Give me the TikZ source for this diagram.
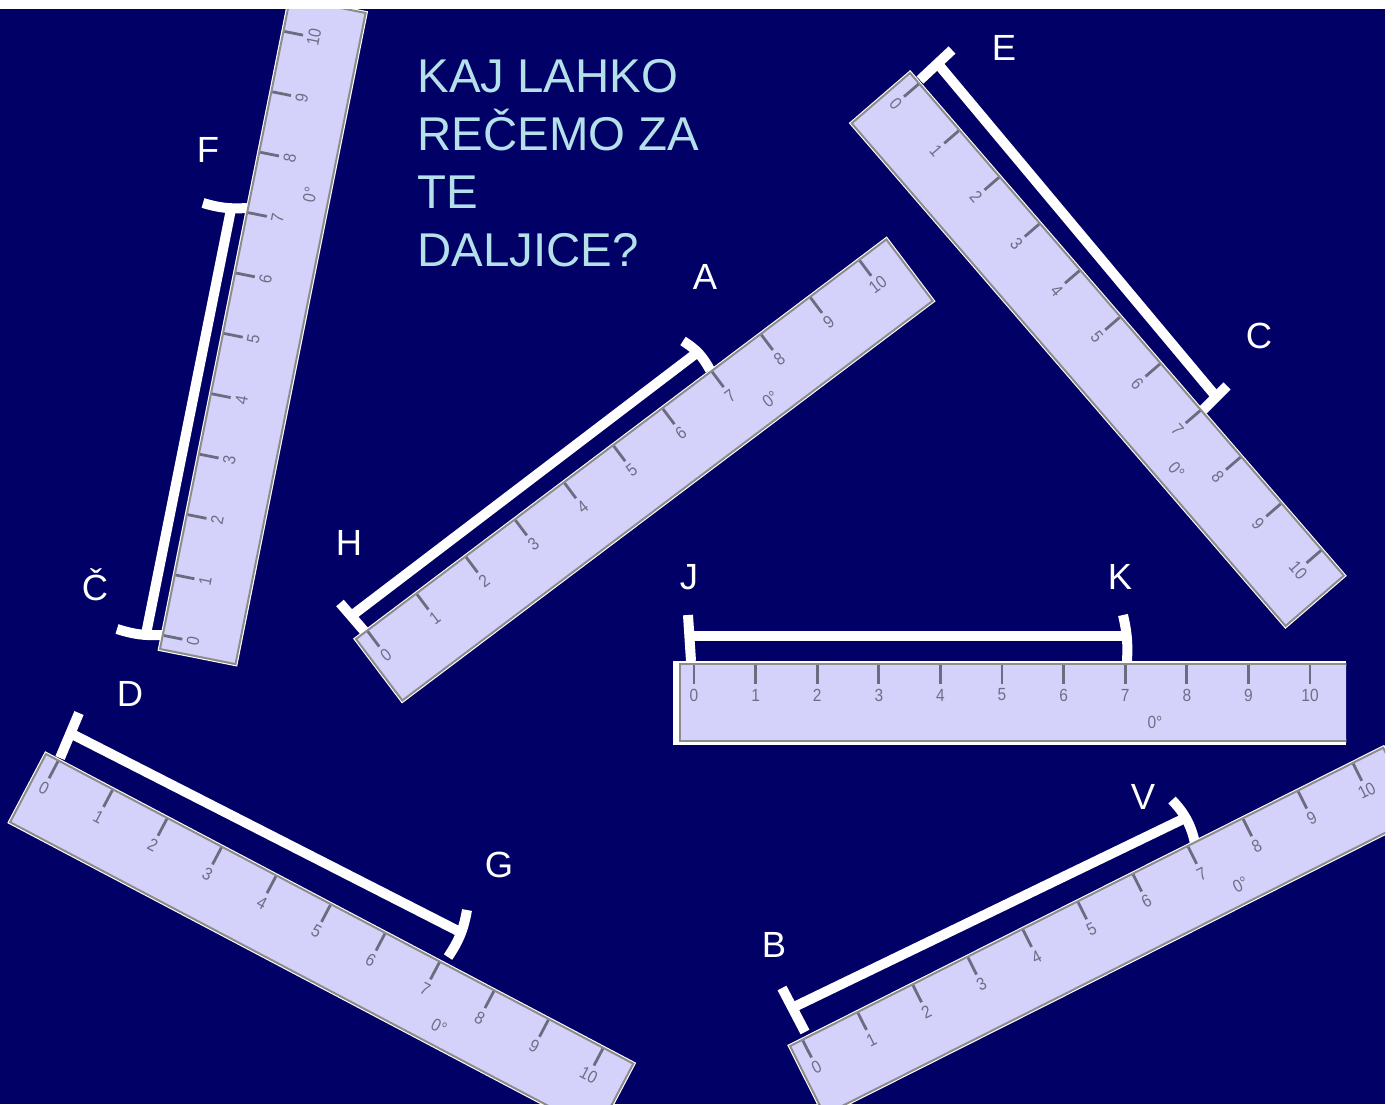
\documentclass[tikz,border=0pt]{standalone}
\usepackage{xcolor}
\usepackage{fontspec}
\setmainfont{Liberation Sans}
\usetikzlibrary{calc}
\definecolor{navybg}{HTML}{000066}
\definecolor{rulerface}{HTML}{D4D2FA}
\definecolor{rulerborder}{HTML}{8C8C8C}
\definecolor{rulertick}{HTML}{6C6C80}
\definecolor{rulerdigit}{HTML}{6E6E86}
\definecolor{titlecyan}{HTML}{B4E0EA}
\def\rulerlen{664}
\def\rulerdepth{77}
\tikzset{
    bracketline/.style={draw=white, line width=5pt},
    ptlabel/.style={text=white, font=\fontsize{18.2}{20}\selectfont, anchor=base, inner sep=0pt},
    titletext/.style={
        text=titlecyan, font=\fontsize{23.7}{29}\selectfont,
        align=left, anchor=north west, inner sep=0pt
    },
    digit/.style={
        transform shape, xscale=0.88, text=rulerdigit, inner sep=0pt,
        font=\fontsize{8.8}{9}\selectfont
    },
    tickline/.style={draw=rulertick, line width=1.4pt},
    ruler/.pic={
        \draw[white, line width=2.1pt] (0,0) rectangle (\rulerlen,\rulerdepth);
        \draw[rulerborder, fill=rulerface, line width=1pt] (0,0) rectangle (\rulerlen,\rulerdepth);
        \foreach \n in {0,...,10} {
            \draw[tickline] ({14+61.6*\n},1) -- ({14+61.6*\n},20);
            \node[digit] (digit\n) at ({14+61.6*\n},31) {\n};
        }
        \node[digit] (angle) at (475,58) {0°};
    },
}
\begin{document}
\begin{tikzpicture}[x=0.5pt, y=-0.5pt]
    \useasboundingbox (0,0) rectangle (1397,1104);
    \fill[white] (0,0) rectangle (1397,1104);
    \begin{scope}
        \clip (0,9) rectangle (1385,1104);
        \fill[navybg] (0,9) rectangle (1385,1104);

        % end points of the segments
        \coordinate (Etip) at (952,50);
        \coordinate (Eend) at (920,80);
        \coordinate (Ctip) at (1227,386);
        \coordinate (Cend) at (1203,410);
        \coordinate (Atip) at (683,341);
        \coordinate (Aend) at (710,370);
        \coordinate (Htip) at (340,603);
        \coordinate (Hend) at (365,632);
        \coordinate (Ftip) at (203,203);
        \coordinate (Fend) at (247,208);
        \coordinate (Cctip) at (117,629);
        \coordinate (Ccend) at (162,635);
        \coordinate (Dtip) at (79,713);
        \coordinate (Dend) at (60,758);
        \coordinate (Gtip) at (467,910);
        \coordinate (Gend) at (448,957);
        \coordinate (Btip) at (782,988);
        \coordinate (Bend) at (805,1032);
        \coordinate (Vtip) at (1172,800);
        \coordinate (Vend) at (1195,843);
        \coordinate (Jtip) at (688,615);
        \coordinate (Jend) at (691,661);
        \coordinate (Ktip) at (1123,615);
        \coordinate (Kend) at (1127,661);

        \draw[bracketline] (Etip) -- (Eend) (Ctip) -- (Cend);
        \draw[bracketline] ($(Etip)!.45!(Eend)$) -- ($(Ctip)!.45!(Cend)$);
        \draw[bracketline] (Atip) to[bend left=15] (Aend) (Htip) -- (Hend);
        \draw[bracketline] ($(Atip)!.45!(Aend)$) -- ($(Htip)!.45!(Hend)$);
        \draw[bracketline] (Ftip) to[bend right=10] (Fend) (Cctip) to[bend right=10] (Ccend);
        \draw[bracketline] ($(Ftip)!.65!(Fend)$) -- ($(Cctip)!.65!(Ccend)$);
        \draw[bracketline] (Dtip) -- (Dend) (Gtip) to[bend left=12] (Gend);
        \draw[bracketline] ($(Dtip)!.45!(Dend)$) -- ($(Gtip)!.45!(Gend)$);
        \draw[bracketline] (Btip) -- (Bend) (Vtip) to[bend left=15] (Vend);
        \draw[bracketline] ($(Btip)!.45!(Bend)$) -- ($(Vtip)!.45!(Vend)$);
        \draw[bracketline] (Jtip) -- (Jend) (Ktip) to[bend left=8] (Kend);
        \draw[bracketline] ($(Jtip)!.45!(Jend)$) -- ($(Ktip)!.45!(Kend)$);

        \pic (rulerHA) at (356,639) [rotate=37] {ruler};
        \pic (rulerDG) at (46,754) [rotate=-27.8] {ruler};
        \pic (rulerEC) at (910,73) [rotate=-49.2] {ruler};
        \pic (rulerCF) at (160,649) [rotate=78.7] {ruler};
        \pic (rulerBV) at (790,1046) [rotate=26.7] {ruler};

        % the level ruler has a white frame and runs out on the right
        \fill[white] (673,661) rectangle (1346,745);
        \begin{scope}
            \clip (673,655) rectangle (1346,750);
            \def\rulerlen{680}
            \pic (rulerJK) at (680,664) {ruler};
        \end{scope}

        \node[titletext] (question) at (417,59) {KAJ LAHKO\\REČEMO ZA\\TE\\DALJICE?};
        \node[ptlabel] (lblA) at (705,289) {A};
        \node[ptlabel] (lblE) at (1004,60) {E};
        \node[ptlabel] (lblC) at (1259,348) {C};
        \node[ptlabel] (lblF) at (208,162) {F};
        \node[ptlabel] (lblCc) at (95,600) {Č};
        \node[ptlabel] (lblH) at (349,555) {H};
        \node[ptlabel] (lblJ) at (689,589) {J};
        \node[ptlabel] (lblK) at (1120,589) {K};
        \node[ptlabel] (lblD) at (130,706) {D};
        \node[ptlabel] (lblG) at (499,877) {G};
        \node[ptlabel] (lblB) at (774,957) {B};
        \node[ptlabel] (lblV) at (1143,809) {V};
    \end{scope}
\end{tikzpicture}
\end{document}
